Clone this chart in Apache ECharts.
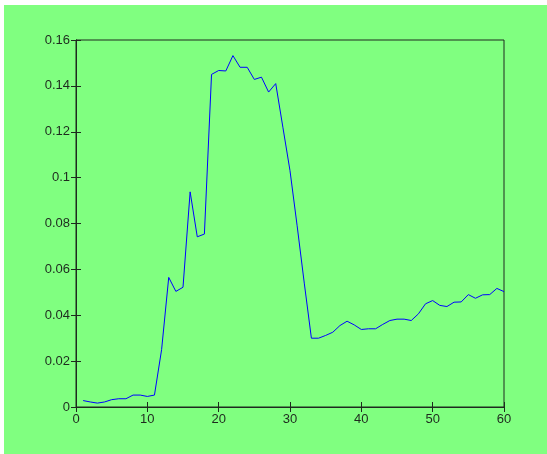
<!DOCTYPE html>
<html>
<head>
<meta charset="utf-8">
<script src="https://cdn.jsdelivr.net/npm/echarts@6/dist/echarts.min.js"></script>
<style>
    html, body {
        margin: 0;
        padding: 0;
        background: #ffffff;
    }
    #chart {
        position: absolute;
        left: 4px;
        top: 5px;
        width: 543px;
        height: 449px;
        background: #80ff80;
    }
</style>
</head>
<body>
<div id="chart"></div>
<script>
// sample index 1..60
var xValues = [];
for (var i = 1; i <= 60; i++) xValues.push(i);

var yValues = [
    0.0028, 0.0022, 0.0017, 0.0022, 0.0032, 0.0036, 0.0036, 0.0052, 0.0052, 0.0046,
    0.0052, 0.025, 0.0565, 0.0504, 0.0522, 0.0938, 0.0742, 0.0754, 0.145, 0.1467,
    0.1465, 0.1532, 0.1481, 0.1481, 0.1428, 0.1438, 0.1373, 0.141, 0.122, 0.103,
    0.079, 0.054, 0.030, 0.030, 0.0312, 0.0326, 0.0355, 0.0374, 0.0358, 0.0338,
    0.0341, 0.0341, 0.036, 0.0377, 0.0383, 0.0383, 0.0377, 0.0406, 0.045, 0.0464,
    0.0443, 0.0438, 0.0457, 0.0458, 0.049, 0.0474, 0.0489, 0.049, 0.0517, 0.0503
];

var xTicks = [0, 10, 20, 30, 40, 50, 60];
var yTicks = [0, 0.02, 0.04, 0.06, 0.08, 0.1, 0.12, 0.14, 0.16];

var axisColor = '#1e2a1e';
var labelFont = {color: '#1e2a1e', fontSize: 13, fontFamily: 'Liberation Sans, Arial, sans-serif'};

var chart = echarts.init(document.getElementById('chart'));
chart.setOption({
    animation: false,
    grid: {
        left: 72,
        top: 35,
        right: 43,
        bottom: 47,
        show: true,
        borderColor: axisColor,
        borderWidth: 1,
        backgroundColor: 'transparent'
    },
    xAxis: [
        {
            type: 'value',
            min: xTicks[0],
            max: xTicks[xTicks.length - 1],
            interval: 10,
            axisLine: {show: true, onZero: false, lineStyle: {color: axisColor}},
            axisTick: {show: true, inside: true, length: 5, lineStyle: {color: axisColor}},
            axisLabel: Object.assign({margin: 6}, labelFont),
            splitLine: {show: false}
        },
        {
            type: 'value',
            position: 'top',
            min: xTicks[0],
            max: xTicks[xTicks.length - 1],
            interval: 10,
            axisLine: {show: true, lineStyle: {color: axisColor}},
            axisTick: {show: true, inside: true, length: 5, lineStyle: {color: axisColor}},
            axisLabel: {show: false},
            splitLine: {show: false}
        }
    ],
    yAxis: [
        {
            type: 'value',
            min: yTicks[0],
            max: yTicks[yTicks.length - 1],
            interval: 0.02,
            axisLine: {show: true, onZero: false, lineStyle: {color: axisColor}},
            axisTick: {show: true, inside: true, length: 5, lineStyle: {color: axisColor}},
            axisLabel: Object.assign({
                margin: 6,
                formatter: function (v) { return String(Math.round(v * 100) / 100); }
            }, labelFont),
            splitLine: {show: false}
        },
        {
            type: 'value',
            position: 'right',
            min: yTicks[0],
            max: yTicks[yTicks.length - 1],
            interval: 0.02,
            axisLine: {show: true, lineStyle: {color: axisColor}},
            axisTick: {show: true, inside: true, length: 5, lineStyle: {color: axisColor}},
            axisLabel: {show: false},
            splitLine: {show: false}
        }
    ],
    series: [{
        type: 'line',
        data: xValues.map(function (x, i) { return [x, yValues[i]]; }),
        showSymbol: false,
        lineStyle: {color: '#0000ff', width: 1},
        itemStyle: {color: '#0000ff'}
    }]
});
</script>
</body>
</html>
